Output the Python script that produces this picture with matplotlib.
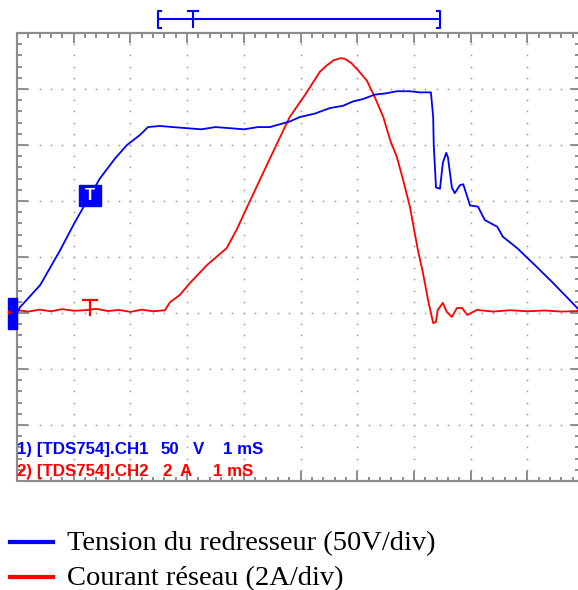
import numpy as np
import matplotlib.pyplot as plt
from matplotlib.collections import LineCollection
from matplotlib.patches import Rectangle

W, H = 578, 590

# CH1 : tension du redresseur (ms, V)
t_ch1 = [0.0, 0.05, 0.41, 0.76, 1.02, 1.29, 1.46, 1.73, 1.94, 2.17, 2.31,
         2.52, 2.75, 3.0, 3.25, 3.5, 3.76, 4.0, 4.25, 4.46, 4.67, 4.81, 4.99,
         5.25, 5.52, 5.75, 5.93, 6.1, 6.31, 6.49, 6.7, 6.93, 7.1, 7.30, 7.34,
         7.35, 7.39, 7.46, 7.51, 7.57, 7.60, 7.67, 7.72, 7.81, 7.87, 7.94,
         7.99, 8.13, 8.25, 8.47, 8.57, 8.82, 9.17, 9.45, 9.70, 9.89, 10.0]
v_ch1 = [0, 5, 25, 56, 81, 105, 120, 138, 150, 159, 166,
         167, 166, 165, 164, 166, 165, 164, 166, 166, 169, 171, 175,
         178, 183, 185, 189, 191, 195, 196, 198, 198, 197, 197, 175,
         150, 112, 111, 134, 143, 139, 112, 107, 114, 115, 104,
         96, 95, 83, 77, 68, 58, 41, 27, 14, 4, -2]

# CH2 : courant reseau (ms, A)
t_ch2 = [0.0, 0.2, 0.4, 0.6, 0.8, 1.0, 1.2, 1.4, 1.6, 1.8, 2.0, 2.2, 2.4,
         2.61, 2.70, 2.87, 3.05, 3.35, 3.70, 3.88, 4.06, 4.34, 4.59, 4.81,
         5.08, 5.34, 5.45, 5.58, 5.70, 5.78, 5.90, 6.01, 6.17, 6.31, 6.46,
         6.58, 6.70, 6.81, 6.93, 7.07, 7.16, 7.25, 7.34, 7.39, 7.42, 7.51,
         7.58, 7.67, 7.76, 7.85, 7.94, 8.11, 8.4, 8.7, 9.0, 9.3, 9.6, 9.89,
         10.0]
i_ch2 = [0.1, 0.05, 0.12, 0.06, 0.14, 0.08, 0.1, 0.15, 0.07, 0.11, 0.04,
         0.12, 0.06, 0.1, 0.39, 0.64, 1.07, 1.71, 2.32, 3.0, 3.79, 5.0, 6.07,
         7.0, 7.79, 8.61, 8.82, 9.02, 9.1, 9.08, 8.92, 8.68, 8.3, 7.71, 7.0,
         6.18, 5.57, 4.75, 3.79, 2.25, 1.43, 0.46, -0.36, -0.32, 0.11, 0.36,
         0.04, -0.14, 0.18, 0.18, -0.07, 0.11, 0.05, 0.1, 0.06, 0.09, 0.05,
         0.07, 0.08]

VOLT_PER_DIV = 50
AMP_PER_DIV = 2
GROUND_DIV = -1
TRIGGER_MS = 1.29

BLUE = "#0000ff"
RED = "#ff0000"
GRAY = "#8c8c8c"

fig = plt.figure(figsize=(W / 100, H / 100), dpi=100)
fig.patch.set_facecolor("white")

# screen: 10 x 8 divisions, right border falls just outside the picture
ax = fig.add_axes([17 / W, 1 - 481 / H, (584 - 17) / W, (481 - 33) / H])
ax.set_xlim(0, 10)
ax.set_ylim(-4, 4)
ax.axis("off")

px_x = 56.7  # pixels per horizontal division
px_y = 56.0  # pixels per vertical division

# dotted graticule
sub = np.arange(0.2, 10.0, 0.2)
for k in range(1, 10):
    ys = np.arange(-3.8, 4.0, 0.2)
    ax.plot(np.full_like(ys, k), ys, ls="none", marker="s", ms=1.1,
            mec="none", mfc="#9a9a9a")
for k in range(-3, 4):
    ax.plot(sub, np.full_like(sub, k), ls="none", marker="s", ms=1.1,
            mec="none", mfc="#9a9a9a")

# border with tick marks
ax.plot([10, 0, 0, 10], [4, 4, -4, -4], color=GRAY, lw=1.6, clip_on=False)
segs = []
for x in np.arange(0, 10.01, 0.2):
    major = abs(x - round(x)) < 1e-6
    L = (10 if major else 4.5) / px_y
    segs.append([(x, 4), (x, 4 - L)])
    segs.append([(x, -4), (x, -4 + L)])
for y in np.arange(-4, 4.01, 0.2):
    major = abs(y - round(y)) < 1e-6
    L = (11 if major else 4.5) / px_x
    segs.append([(0, y), (L, y)])
    Lr = (14 if major else 9) / px_x
    segs.append([(10, y), (10 - Lr, y)])
ax.add_collection(LineCollection(segs, colors=GRAY, linewidths=1.4,
                                 clip_on=False))

# traces
ax.plot(t_ch1, np.array(v_ch1) / VOLT_PER_DIV + GROUND_DIV,
        color=BLUE, lw=1.3, zorder=5)
ax.plot(t_ch2, np.array(i_ch2) / AMP_PER_DIV + GROUND_DIV,
        color=RED, lw=1.3, zorder=4)

# ground level marker (CH1 / CH2)
ax.add_patch(Rectangle((-9 / px_x, GROUND_DIV - 16 / px_y), 9 / px_x,
                       31 / px_y, color=BLUE, clip_on=False, zorder=6))
ax.plot([-7 / px_x], [GROUND_DIV + 1 / px_y], marker=">", ms=3.5,
        color=RED, mec="none", clip_on=False, zorder=7)

# trigger markers
v_trig = np.interp(TRIGGER_MS, t_ch1, v_ch1) / VOLT_PER_DIV + GROUND_DIV
ax.add_patch(Rectangle((TRIGGER_MS - 11 / px_x, v_trig - 11 / px_y),
                       22 / px_x, 21 / px_y, color=BLUE, zorder=8))
ax.text(TRIGGER_MS, v_trig - 0.5 / px_y, "T", color="white", ha="center",
        va="center", fontsize=12, fontweight="bold",
        family="Liberation Sans", zorder=9)
ty = GROUND_DIV + 13 / px_y
ax.plot([TRIGGER_MS - 7 / px_x, TRIGGER_MS + 7 / px_x], [ty, ty],
        color=RED, lw=1.6, zorder=6)
ax.plot([TRIGGER_MS, TRIGGER_MS], [ty, ty - 15 / px_y],
        color=RED, lw=1.6, zorder=6)

# channel readouts
readout = [
    (BLUE, -3.52, [(0, "1) [TDS754].CH1"), (161, "50"), (193, "V"),
                   (223, "1 mS")]),
    (RED, -3.91, [(0, "2) [TDS754].CH2"), (162, "2"), (180, "A"),
                  (213, "1 mS")]),
]
for color, y, parts in readout:
    for xp, s in parts:
        x = 0 if xp == 0 else (xp - 17) / px_x
        ax.text(x, y, s, color=color, fontsize=12.2, fontweight="bold",
                family="Liberation Sans", va="baseline", ha="left")


def fx(x):
    return x / W


def fy(y):
    return 1 - y / H


# record window indicator above the screen
fig.add_artist(plt.Line2D([fx(158), fx(440)], [fy(19), fy(19)],
                          color=BLUE, lw=1.5))
for xb, d in [(158, 1), (440, -1)]:
    fig.add_artist(plt.Line2D([fx(xb + 3 * d), fx(xb), fx(xb), fx(xb + 3 * d)],
                              [fy(11), fy(11), fy(28), fy(28)],
                              color=BLUE, lw=1.5))
fig.add_artist(plt.Line2D([fx(188), fx(198)], [fy(11), fy(11)],
                          color=BLUE, lw=1.5))
fig.add_artist(plt.Line2D([fx(193), fx(193)], [fy(11), fy(27)],
                          color=BLUE, lw=1.5))

# legend
legend = [(BLUE, 542, "Tension du redresseur (50V/div)"),
          (RED, 577, "Courant r\u00e9seau (2A/div)")]
for color, yl, label in legend:
    fig.add_artist(plt.Line2D([fx(10), fx(53)], [fy(yl), fy(yl)],
                              color=color, lw=3))
    fig.text(fx(67), fy(yl + 8.5), label, fontsize=20.5,
             family="Liberation Serif", va="baseline", ha="left")

fig.savefig("out.png", dpi=100)
